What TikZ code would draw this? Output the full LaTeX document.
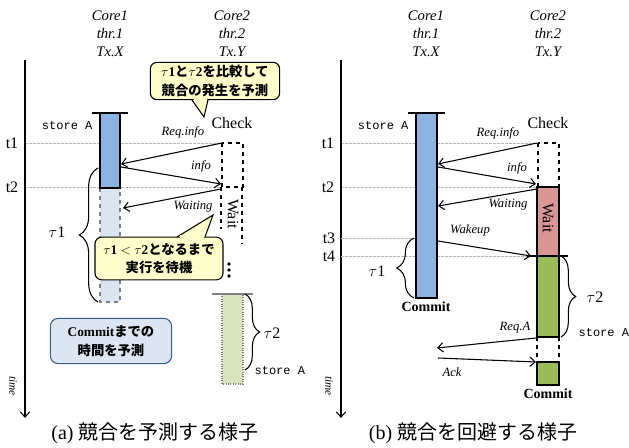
\documentclass[tikz,border=0pt]{standalone}
\usepackage{fontspec}
\setmainfont{Liberation Serif}
\setmonofont{Liberation Mono}
\newfontfamily\jpfont{Noto Sans CJK JP}
\usetikzlibrary{arrows.meta, positioning, decorations.pathreplacing}

\definecolor{barblue}{HTML}{8DB3E2}
\definecolor{barpale}{HTML}{DBE5F1}
\definecolor{barlime}{HTML}{D7E4BD}
\definecolor{barpink}{HTML}{D99694}
\definecolor{bargreen}{HTML}{9BBB59}
\definecolor{noteyellow}{HTML}{FFFFCC}
\definecolor{noteblue}{HTML}{DCE6F2}
\definecolor{noteedge}{HTML}{385D8A}

\begin{document}
\begin{tikzpicture}[
    x=0.75pt, y=-0.75pt,
    head/.style={font=\fontsize{11}{13.5}\selectfont\itshape, align=center},
    msg/.style={font=\fontsize{9.5}{11}\selectfont\itshape, inner sep=1pt},
    tick/.style={font=\fontsize{12}{14}\selectfont, inner sep=1pt},
    store/.style={font=\fontsize{9}{10}\selectfont\ttfamily, inner sep=1pt},
    commit/.style={font=\fontsize{10.5}{12}\selectfont\bfseries, inner sep=1pt},
    timelbl/.style={font=\fontsize{8.5}{10}\selectfont\itshape, rotate=-90, inner sep=1pt},
    grid/.style={draw=gray!55, dash pattern=on 2pt off 1pt, very thin},
    arrow/.style={-{Straight Barb[length=4pt, width=7pt]}, thick},
    axis/.style={-{Straight Barb[length=4pt, width=7pt]}, thick},
    bar/.style={draw, thick},
    ghost/.style={draw, dashed, thick},
    capline/.style={line width=2.2pt},
    note/.style={draw, thick, fill=noteyellow, rounded corners=5pt,
        font=\jpfont\bfseries\fontsize{10}{14}\selectfont, align=center, inner sep=2pt},
    tail/.style={draw, thick, fill=noteyellow},
    brace/.style={decorate, decoration={brace, amplitude=#1}, thick},
    brace/.default=11pt,
    caption/.style={font=\fontsize{15}{18}\selectfont}
]
\useasboundingbox (0,0) rectangle (629,448);

% 共通部分
\foreach \dx/\p in {0/a, 316/b} {
    \draw[grid] (25+\dx,143) -- (222+\dx,143);
    \draw[grid] (25+\dx,187) -- (222+\dx,187);
    \coordinate (\p-axtop) at (25+\dx,60);
    \coordinate (\p-axend) at (25+\dx,418);
    \draw[axis] (\p-axtop) -- (\p-axend);
    \node[timelbl] (\p-time) at (13+\dx,386) {time};
    \node[head] (\p-core1) at (110+\dx,34) {Core1\\thr.1\\Tx.X};
    \node[head] (\p-core2) at (232+\dx,34) {Core2\\thr.2\\Tx.Y};
    \node[tick] (\p-t1) at (12+\dx,143) {t1};
    \node[tick] (\p-t2) at (12+\dx,187) {t2};
    \node[store, anchor=east] (\p-store) at (94+\dx,126) {store A};
    \node[tick] (\p-check) at (232+\dx,123) {Check};
    \draw[ghost] (222+\dx,143) rectangle (243+\dx,187);
}

% (a) 競合を予測する様子
\draw[bar, fill=barpale, draw=gray, dashed] (100,188) rectangle (120,302);
\draw[bar, fill=barblue] (100,113) rectangle (120,188);
\draw[capline] (92,113) -- (128,113);
\draw[ghost] (221,187) -- (221,229);
\draw[ghost] (242,187) -- (242,244);
\node[tick, rotate=-90] (a-wait) at (233,214) {Wait};
\foreach \y in {264, 270, 276}
    \fill (229,\y) circle (1.4pt);

\draw[fill=barlime, draw=gray, densely dotted, thick] (222,294) rectangle (243,384);
\draw[capline, gray] (212,294) -- (253,294);
\draw[brace] (245,294) -- (245,370);
\node[tick] (a-tau2) at (272,333) {$\tau$2};
\node[store, anchor=west] (a-store2) at (253,371) {store A};
\draw[brace=14pt] (98,302) -- (98,168);
\node[tick] (a-tau1) at (57,232) {$\tau$1};

% 吹き出し
\node[note, minimum width=97pt, minimum height=28pt] (a-note1) at (215,81)
    {{\rmfamily$\tau$1}と{\rmfamily$\tau$2}を比較して\\競合の発生を予測};
\coordinate (a-tip1) at (204,117);
\draw[tail] (192,100) -- (a-tip1) -- (208,100);
\fill[noteyellow] (194,97.5) rectangle (206.5,101.5);
\node[note, minimum width=96pt, minimum height=32pt] (a-note2) at (159,258.5)
    {{\rmfamily$\tau$1 $<$ $\tau$2}となるまで\\実行を待機};
\coordinate (a-tip2) at (213,215);
\draw[tail] (177,237) -- (a-tip2) -- (205,237);
\fill[noteyellow] (179.5,235.5) rectangle (203.5,239.5);
\node[draw=noteedge, thick, fill=noteblue, rounded corners=6pt, minimum width=91pt,
    minimum height=34pt, align=center, font=\jpfont\bfseries\fontsize{10}{14}\selectfont]
    (a-note3) at (111,341) {{\rmfamily Commit}までの\\時間を予測};

% (b) 競合を回避する様子
\draw[grid] (341,238) -- (416,238);
\draw[grid] (341,256) -- (530,256);
\node[tick] (b-t3) at (329,238) {t3};
\node[tick] (b-t4) at (329,256) {t4};
\draw[bar, fill=barblue] (416,113) rectangle (437,298);
\draw[capline] (408,113) -- (445,113);
\node[commit, below=2pt of {(426,298)}] (b-commit1) {Commit};
\draw[bar, fill=barpink] (537,187) rectangle (559,256);
\node[tick, rotate=-90] (b-wait) at (548,218) {Wait};
\draw[bar, fill=bargreen] (537,256) rectangle (559,337);
\draw[ghost] (537,337) -- (537,362);
\draw[ghost] (559,337) -- (559,362);
\draw[bar, fill=bargreen] (537,362) rectangle (559,385);
\node[commit, below=2pt of {(548,385)}] (b-commit2) {Commit};
\draw[capline] (527,256) -- (568,256);
\draw[brace=13pt] (414,298) -- (414,238);
\node[tick] (b-tau1) at (377,271) {$\tau$1};
\draw[brace] (561,256) -- (561,337);
\node[tick] (b-tau2) at (595,297) {$\tau$2};
\node[store, anchor=west] (b-store2) at (577,333) {store A};

% 矢印
\coordinate (a-rq1) at (222,143); \coordinate (a-rq2) at (121,164);
\coordinate (a-if1) at (121,167); \coordinate (a-if2) at (221,184);
\coordinate (a-wt1) at (221,189); \coordinate (a-wt2) at (123,208);
\coordinate (b-rq1) at (537,143); \coordinate (b-rq2) at (438,164);
\coordinate (b-if1) at (438,167); \coordinate (b-if2) at (536,184);
\coordinate (b-wt1) at (537,189); \coordinate (b-wt2) at (438,206);
\coordinate (b-wk1) at (438,241); \coordinate (b-wk2) at (531,256);
\coordinate (b-ra1) at (536,338); \coordinate (b-ra2) at (437,348);
\coordinate (b-ak1) at (438,358); \coordinate (b-ak2) at (536,362);
\foreach \i/\j in {a-rq1/a-rq2, a-if1/a-if2, a-wt1/a-wt2, b-rq1/b-rq2, b-if1/b-if2,
                  b-wt1/b-wt2, b-wk1/b-wk2, b-ra1/b-ra2, b-ak1/b-ak2}
    \draw[arrow] (\i) -- (\j);

\node[msg] (a-lreq) at (183,132) {Req.info};
\node[msg] (a-linfo) at (201,166) {info};
\node[msg] (a-lwait) at (193,207) {Waiting};
\node[msg] (b-lreq) at (498,133) {Req.info};
\node[msg] (b-linfo) at (517,168) {info};
\node[msg] (b-lwait) at (508,205) {Waiting};
\node[msg] (b-lwake) at (470,230) {Wakeup};
\node[msg] (b-lreqa) at (515,328) {Req.A};
\node[msg] (b-lack) at (452,372) {Ack};

% キャプション
\node[caption] (a-cap) at (155,433) {(a) {\jpfont 競合を予測する様子}};
\node[caption] (b-cap) at (473,433) {(b) {\jpfont 競合を回避する様子}};

\end{tikzpicture}
\end{document}
